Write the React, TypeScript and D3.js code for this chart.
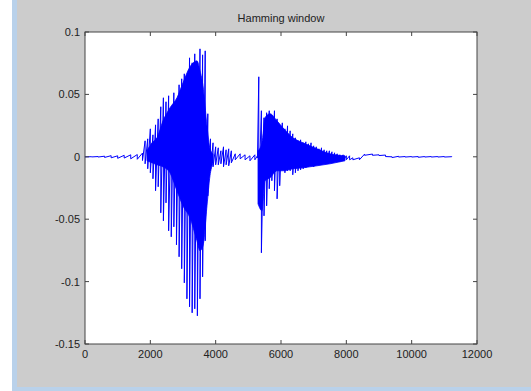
import React, { useEffect, useRef } from "react";
import * as d3 from "d3";

// waveform envelope: sample index, upper and lower amplitude
const sampleIdx = [
  0, 200, 400, 600, 800, 1000, 1200, 1400, 1600, 1760,
  1840, 1920, 2000, 2080, 2160, 2240, 2320, 2400, 2480, 2560, 2640, 2720, 2800,
  2880, 2960, 3040, 3120, 3200, 3280, 3360, 3440, 3520, 3600, 3680, 3760, 3840,
  3920, 4000,
  4080, 4160, 4240, 4320, 4400, 4480, 4600, 4750, 4900, 5050, 5200, 5280,
  5320, 5400, 5480, 5560, 5640, 5720, 5800, 5880, 5960, 6040, 6120, 6200, 6280,
  6360, 6440, 6520, 6600, 6680, 6760, 6840, 6920, 7000, 7080, 7160, 7240, 7320,
  7400, 7480, 7560, 7640, 7720, 7800, 7900, 8000, 8100,
  8200, 8400, 8560, 8800, 9000, 9200, 9400, 9600, 9800, 10000, 10200, 10400,
  10600, 10800, 11000, 11230,
];
const upper = [
  0.0001, 0.0001, 0.0002, 0.0005, 0.0009, 0.0008, 0.0012, 0.0016, 0.0018, 0.003,
  0.0128, 0.0144, 0.0224, 0.0176, 0.0256, 0.0304, 0.0401, 0.0473, 0.0441, 0.0489,
  0.0385, 0.0513, 0.0449, 0.0577, 0.0625, 0.0665, 0.0545, 0.0793, 0.0753, 0.0825,
  0.0689, 0.0865, 0.0817, 0.0849, 0.0345, 0.0144, 0.0112, 0.008,
  0.0072, 0.0048, 0.008, 0.0056, 0.0064, 0.0048, 0.0024, 0.0024, 0.0016, 0.0008,
  0.0016, 0.0008,
  0.0641, 0.0369, 0.0313, 0.0353, 0.0369, 0.0329, 0.0369, 0.0304, 0.0232, 0.0272,
  0.0224, 0.0248, 0.0208, 0.0184, 0.0152, 0.0128, 0.0136, 0.0112, 0.012, 0.0104,
  0.0112, 0.0088, 0.008, 0.0064, 0.0072, 0.0056, 0.0048, 0.0048, 0.004, 0.0032,
  0.0024, 0.0016, 0.0016, 0.0008, 0.0008,
  -0.0008, -0.0008, 0.0022, 0.0022, 0.0016, 0.0014, 0, 0.0004, 0.0002, 0.0002,
  0.0002, 0.0002, 0.0002, 0.0002, 0.0002, 0.0001,
];
const lower = [
  -0.0001, -0.0001, -0.0002, -0.0005, -0.0008, -0.0012, -0.001, -0.0016, -0.002, -0.003,
  -0.0056, -0.0096, -0.0128, -0.0176, -0.0272, -0.024, -0.0449, -0.0513, -0.0369,
  -0.0593, -0.0641, -0.0561, -0.0705, -0.0801, -0.0897, -0.101, -0.1138, -0.1202,
  -0.125, -0.1218, -0.1274, -0.1138, -0.0962, -0.0673, -0.0313, -0.0112, -0.008,
  -0.0064,
  -0.0064, -0.0056, -0.008, -0.0064, -0.0072, -0.0048, -0.0024, -0.0016, -0.0024,
  -0.0032, -0.0024, -0.0008,
  -0.0272, -0.0769, -0.0473, -0.0393, -0.0256, -0.0192, -0.0272, -0.0337, -0.0232,
  -0.0096, -0.0128, -0.0112, -0.0112, -0.0144, -0.0128, -0.0112, -0.0104, -0.0096,
  -0.0088, -0.008, -0.0072, -0.008, -0.0064, -0.0056, -0.0064, -0.0048, -0.0056,
  -0.004, -0.0048, -0.004, -0.0032, -0.004, -0.0032, -0.0024, -0.0024,
  -0.0024, -0.0024, 0.0012, 0.0012, 0.001, 0.0002, -0.0006, -0.0002, -0.0002, -0.0002,
  -0.0004, -0.0002, -0.0002, -0.0002, -0.0002, -0.0001,
];

// solid core of the two bursts (where the samples are too dense to tell apart)
const coreAIdx = [1898, 2051, 2204, 2388, 2602, 2816, 2999, 3214, 3428, 3520, 3612, 3734, 3826, 3918];
const coreAHi = [0.0048, 0.0112, 0.0152, 0.0288, 0.0393, 0.0473, 0.0593, 0.0721, 0.0769, 0.0689, 0.0569, 0.0248, 0.0064, 0.0024];
const coreALo = [-0.0032, -0.0048, -0.0064, -0.008, -0.0128, -0.0272, -0.0393, -0.0489, -0.0673, -0.0753, -0.0713, -0.0393, -0.0152, -0.0048];

const coreBIdx = [5296, 5418, 5510, 5663, 5877, 6061, 6367, 6673, 7102, 7500, 7959];
const coreBHi = [0.0048, 0.0112, 0.0313, 0.0345, 0.0288, 0.0232, 0.0152, 0.0112, 0.0064, 0.0024, 0.0008];
const coreBLo = [-0.0377, -0.0433, -0.0192, -0.0168, -0.0112, -0.0112, -0.0096, -0.0088, -0.0072, -0.0056, -0.0032];

const xTicks = [0, 2000, 4000, 6000, 8000, 10000, 12000];
const yTicks = [0.1, 0.05, 0, -0.05, -0.1, -0.15];

const W = 531;
const H = 391;
const left = 85;
const right = 477;
const top = 32;
const bottom = 344;

export default function App() {
  const gRef = useRef<SVGGElement>(null);

  const x = d3.scaleLinear().domain([0, 12000]).range([left, right]);
  const y = d3.scaleLinear().domain([-0.15, 0.1]).range([bottom, top]);

  // zigzag: each envelope sample goes top -> bottom, then on to the next top
  const pts: [number, number][] = [];
  sampleIdx.forEach((s, i) => {
    pts.push([s, upper[i]]);
    pts.push([s, lower[i]]);
  });

  useEffect(() => {
    if (!gRef.current) return;
    const g = d3.select(gRef.current);
    g.selectAll("*").remove();

    const cores: [number[], number[], number[]][] = [
      [coreAIdx, coreAHi, coreALo],
      [coreBIdx, coreBHi, coreBLo],
    ];
    cores.forEach(([idx, hi, lo]) => {
      const a = d3
        .area<number>()
        .x((_, k) => x(idx[k]))
        .y0((_, k) => y(lo[k]))
        .y1((_, k) => y(hi[k]))
        .curve(d3.curveMonotoneX);
      g.append("path")
        .attr("d", a(idx))
        .attr("fill", "#0000ff")
        .attr("stroke", "#0000ff")
        .attr("stroke-width", 0.8);
    });

    const line = d3
      .line<[number, number]>()
      .x((d) => x(d[0]))
      .y((d) => y(d[1]));

    g.append("path")
      .attr("d", line(pts))
      .attr("fill", "none")
      .attr("stroke", "#0000ff")
      .attr("stroke-width", 1);
  }, []);

  const font = "'Liberation Sans', Arial, sans-serif";

  return (
    <svg
      width={W}
      height={H}
      style={{ position: "absolute", left: 0, top: 0 }}
    >
      <rect x={0} y={0} width={W} height={H} fill="#cccccc" />
      <rect x={0} y={0} width={12} height={H} fill="#ffffff" />
      <rect x={12} y={0} width={5} height={H} fill="#b9d1ea" />
      <rect x={12} y={387} width={W} height={4} fill="#b9d1ea" />
      <rect
        x={left}
        y={top}
        width={right - left}
        height={bottom - top}
        fill="#ffffff"
      />
      <g ref={gRef}></g>
      <rect
        x={left}
        y={top}
        width={right - left}
        height={bottom - top}
        fill="none"
        stroke="#444"
        strokeWidth={1}
      />
      {xTicks.map((t) => (
        <g key={"x" + t}>
          <line x1={x(t)} x2={x(t)} y1={bottom} y2={bottom - 4} stroke="#444" />
          <line x1={x(t)} x2={x(t)} y1={top} y2={top + 4} stroke="#444" />
          <text
            x={x(t)}
            y={358}
            textAnchor="middle"
            fontFamily={font}
            fontSize={11}
            fill="#222"
          >
            {t}
          </text>
        </g>
      ))}
      {yTicks.map((t) => (
        <g key={"y" + t}>
          <line x1={left} x2={left + 4} y1={y(t)} y2={y(t)} stroke="#444" />
          <line x1={right} x2={right - 4} y1={y(t)} y2={y(t)} stroke="#444" />
          <text
            x={80}
            y={y(t) + 4}
            textAnchor="end"
            fontFamily={font}
            fontSize={11}
            fill="#222"
          >
            {t}
          </text>
        </g>
      ))}
      <text
        x={(left + right) / 2}
        y={22}
        textAnchor="middle"
        fontFamily={font}
        fontSize={11}
        fill="#222"
      >
        Hamming window
      </text>
    </svg>
  );
}
